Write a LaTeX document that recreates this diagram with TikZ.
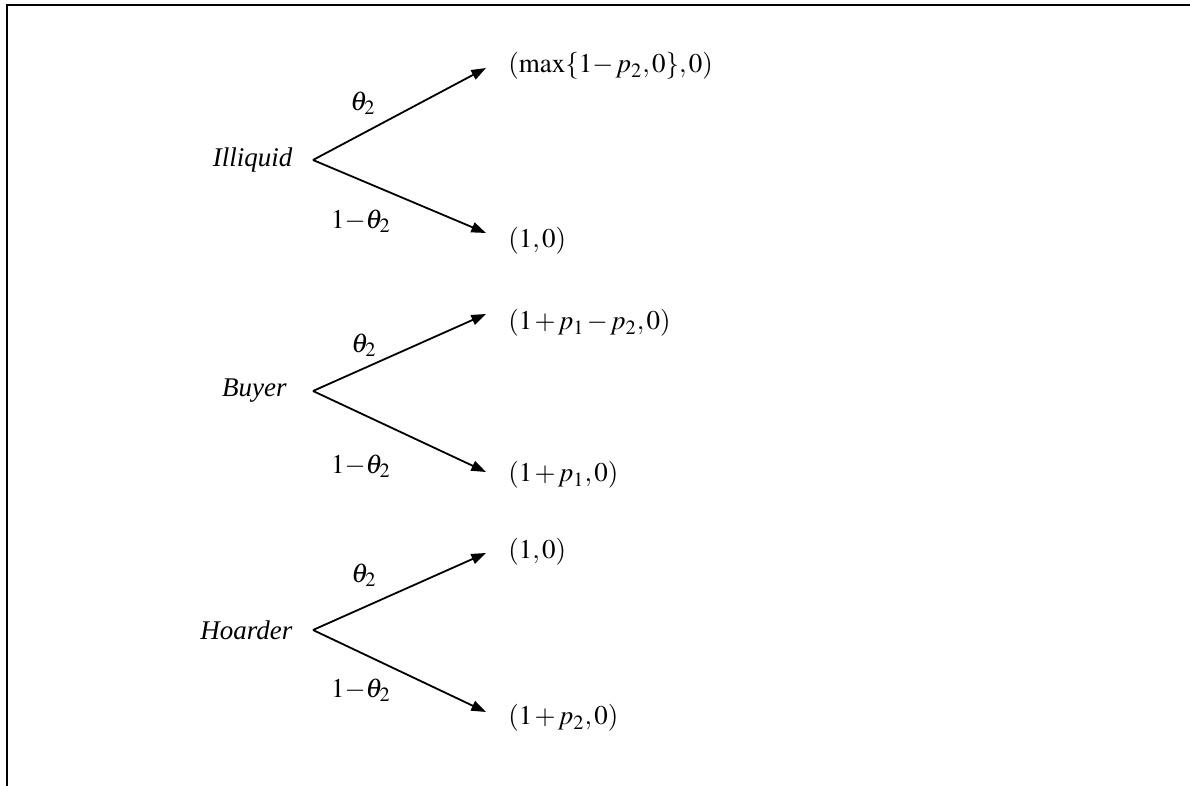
\documentclass[tikz,border=0pt]{standalone}
\usepackage{mathptmx}
\usepackage{fontspec}
\setmainfont{Liberation Serif}
\usetikzlibrary{arrows.meta}
\AtBeginDocument{\medmuskip=1.5mu\thinmuskip=1.5mu}

\begin{document}
\begin{tikzpicture}[x=0.4444pt,y=-0.4444pt,font=\large,
  branch/.style={line width=0.8pt,-{Triangle[length=6.5pt,width=4.6pt]}},
  state/.style={font=\large\itshape,inner xsep=9pt,inner ysep=0pt,anchor=east},
  prob/.style={inner sep=0pt},
  payoff/.style={inner sep=0pt,anchor=west}]
\useasboundingbox (0,0) rectangle (1190,786);
\draw[line width=0.9pt] (1190,5) -- (6.7,5) -- (6.7,786);
\node[state] (illiquid) at (313,160) {Illiquid};
\coordinate (illiquidUp) at (486,68);
\coordinate (illiquidDown) at (486,233);
\draw[branch] (illiquid.east) -- (illiquidUp);
\draw[branch] (illiquid.east) -- (illiquidDown);
\node[prob] (illiquidP) at (363,103) {$\theta_2$};
\node[prob] (illiquidQ) at (361,221) {$1{-}\theta_2$};
\node[payoff] (illiquidA) at (508,66) {$(\max\{1{-}\,p_2,0\},0)$};
\node[payoff] (illiquidB) at (508,241) {$(1,0)$};
\node[state,inner xsep=11.5pt] (buyer) at (313,391) {Buyer};
\coordinate (buyerUp) at (486,314);
\coordinate (buyerDown) at (486,472);
\draw[branch] (buyer.east) -- (buyerUp);
\draw[branch] (buyer.east) -- (buyerDown);
\node[prob] (buyerP) at (364,345) {$\theta_2$};
\node[prob] (buyerQ) at (361,466) {$1{-}\theta_2$};
\node[payoff] (buyerA) at (508,323) {$(1+p_1-p_2,0)$};
\node[payoff] (buyerB) at (508,475) {$(1+p_1,0)$};
\node[state] (hoarder) at (313,630) {Hoarder};
\coordinate (hoarderUp) at (486,553);
\coordinate (hoarderDown) at (486,712);
\draw[branch] (hoarder.east) -- (hoarderUp);
\draw[branch] (hoarder.east) -- (hoarderDown);
\node[prob] (hoarderP) at (364,575) {$\theta_2$};
\node[prob] (hoarderQ) at (361,690) {$1{-}\theta_2$};
\node[payoff] (hoarderA) at (508,552) {$(1,0)$};
\node[payoff] (hoarderB) at (508,718) {$(1+p_2,0)$};
\end{tikzpicture}
\end{document}
